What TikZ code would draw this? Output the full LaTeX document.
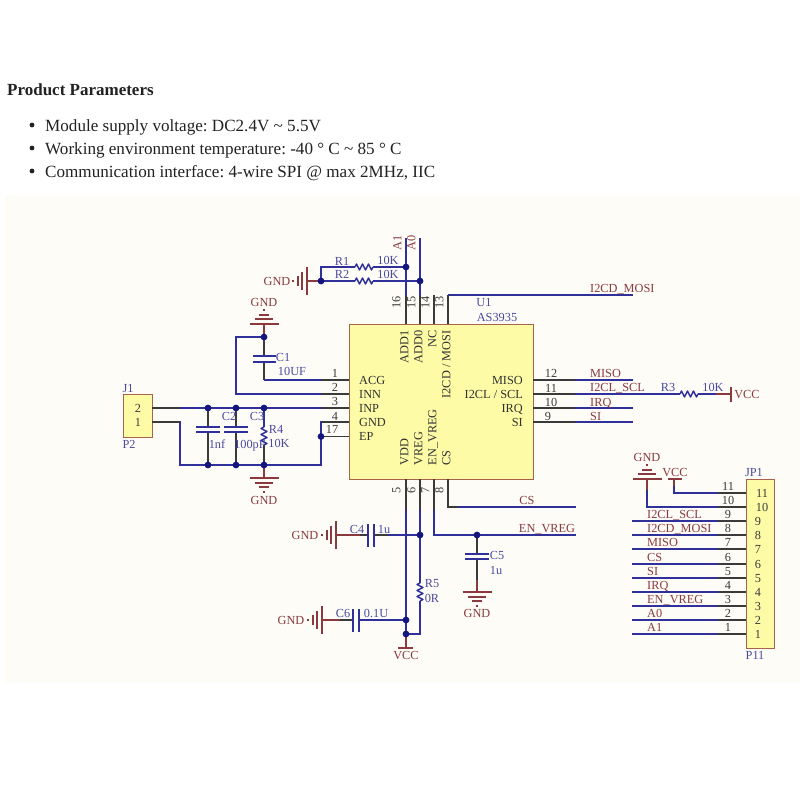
\documentclass[tikz,border=0pt]{standalone}
\usepackage{fontspec}
\setmainfont{Liberation Serif}
\definecolor{wireblue}{HTML}{30309A}
\definecolor{pinblack}{HTML}{3A3A3A}
\definecolor{netred}{HTML}{8A3A3E}
\definecolor{lblblue}{HTML}{4A4A9E}
\definecolor{chipfill}{HTML}{FDFBA6}
\definecolor{chipedge}{HTML}{A8644A}
\definecolor{panelbg}{HTML}{FEFCF7}
\definecolor{bodytext}{HTML}{222222}
\definecolor{dotblue}{HTML}{15157F}
\tikzset{
  wire/.style={draw=wireblue,line width=1.4pt},
  pinline/.style={draw=pinblack,line width=1.4pt},
  redline/.style={draw=netred,line width=1.4pt},
  chip/.style={draw=chipedge,fill=chipfill,line width=0.9pt},
  capplate/.style={draw=wireblue,line width=1.6pt},
  base/.style={inner sep=0pt,font=\fontsize{12.3}{12.3}\selectfont},
  bluetxt/.style={base,text=lblblue,anchor=mid,yshift=-2pt},
  redtxt/.style={base,text=netred,anchor=mid,yshift=-2pt},
  redrot/.style={base,text=netred,rotate=90,anchor=mid,xshift=3.5pt},
  redleft/.style={base,text=netred,anchor=mid west,yshift=-2pt},
  pintxt/.style={base,text=pinblack,anchor=mid,yshift=-2pt},
  chipleft/.style={base,text=pinblack!85!black,anchor=mid west,yshift=-2pt},
  chipright/.style={base,text=pinblack!85!black,anchor=mid east,yshift=-2pt},
  chipup/.style={base,text=pinblack!85!black,rotate=90,anchor=mid east,xshift=3.5pt},
  chipdown/.style={base,text=pinblack!85!black,rotate=90,anchor=mid west,xshift=3.5pt},
  pinrot/.style={base,text=pinblack,rotate=90,anchor=mid,xshift=3.5pt},
  bodyline/.style={inner sep=0pt,text=bodytext,anchor=mid west,yshift=-4pt,font=\fontsize{17.1}{17}\selectfont\frenchspacing},
  gnddown/.pic={
    \draw[redline] (-14.5,0)--(14.5,0) (-9,5)--(9,5) (-5,9)--(5,9) (-1,14)--(1,14);
  },
  gndup/.pic={
    \draw[redline] (-14.5,0)--(14.5,0) (-9,-5)--(9,-5) (-5,-9)--(5,-9) (-1,-14)--(1,-14);
  },
  gndleft/.pic={
    \draw[redline] (0,-14)--(0,14) (-5,-9)--(-5,9) (-9,-5)--(-9,5) (-14,-1)--(-14,1);
  },
  resh/.pic={
    \draw[wire,line join=round] (0,0)--(1.5,-3)--(4.5,3)--(7.5,-3)--(10.5,3)--(13.5,-3)--(16.5,3)--(18,0);
  },
  resv/.pic={
    \draw[wire,line join=round] (0,0)--(-3,1.5)--(3,4.5)--(-3,7.5)--(3,10.5)--(-3,13.5)--(3,16.5)--(0,18);
  },
}
\newcommand{\jdots}[1]{\foreach \p in {#1}{\fill[dotblue] \p circle (3.4);}}
\begin{document}
\begin{tikzpicture}[x=1pt,y=-1pt]
\useasboundingbox (0,0) rectangle (800,800);
\fill[white] (0,0) rectangle (800,800);
\fill[panelbg] (5,195) rectangle (800,682);

% --- heading text
\node[inner sep=0pt,text=bodytext,anchor=mid west,yshift=-4pt,font=\fontsize{17}{17}\selectfont\bfseries\frenchspacing] (head) at (7,89) {Product Parameters};
\node[bodyline] (b1) at (45,125) {Module supply voltage: DC2.4V \textasciitilde{} 5.5V};
\node[bodyline] (b2) at (45,148) {Working environment temperature: -40 ° C \textasciitilde{} 85 ° C};
\node[bodyline] (b3) at (45,171) {Communication interface: 4-wire SPI @ max 2MHz, IIC};
\foreach \yy in {125,148,171}{\fill[bodytext] (32,\yy) circle (2.4);}

% --- chips
\draw[chip] (349,324) rectangle (533,479);
\draw[chip] (123,394) rectangle (152,437);
\draw[chip] (746,479) rectangle (774,648);

% --- left wires
\draw[wire] (152,408)--(349,408);
\draw[wire] (152,422)--(180,422)--(180,465)--(321,465)--(321,422)--(349,422);
\draw[wire] (321,436.5)--(349,436.5);
\draw[wire] (264,337)--(236,337)--(236,394)--(349,394);
\draw[wire] (264,380)--(349,380);
\draw[pinline] (264,362)--(264,380);
\draw[pinline] (264,337)--(264,356);
\draw[pinline] (152,408)--(180,408) (152,422)--(180,422);
\foreach \yy in {380,394,408,422,436.5}{\draw[pinline] (322,\yy)--(349,\yy);}
\draw[pinline] (208,408)--(208,427) (208,432)--(208,465);
\draw[pinline] (236,408)--(236,427) (236,432)--(236,465);
\draw[pinline] (264,445)--(264,465);
\draw[wire] (264,408)--(264,427);
\pic at (264,427) {resv};
\draw[capplate] (196,427)--(220,427) (196,432)--(220,432);
\draw[capplate] (224,427)--(248,427) (224,432)--(248,432);
\draw[capplate] (253,356)--(276,356) (253,362)--(276,362);
\draw[redline] (264,324)--(264,337);
\pic at (264,324) {gndup};
\draw[redline] (264,465)--(264,478);
\pic at (264,478) {gnddown};
\jdots{(264,337),(208,408),(236,408),(264,408),(208,465),(236,465),(264,465),(321,436.5)}

% --- R1, R2
\draw[redline] (307,281)--(321,281);
\pic at (307,281) {gndleft};
\draw[wire] (321,281)--(321,267)--(355,267) (373,267)--(406,267);
\draw[wire] (321,281)--(355,281) (373,281)--(420,281);
\pic at (355,267) {resh};
\pic at (355,281) {resh};
\jdots{(321,281)}

% --- top pins
\draw[wire] (406,238)--(406,324);
\draw[wire] (420,238)--(420,324);
\draw[wire] (448,295)--(633,295);
\draw[pinline] (406,296)--(406,324) (420,296)--(420,324) (434,295)--(434,324) (448,295)--(448,324);
\jdots{(406,267),(420,281)}

% --- right pins
\draw[wire] (533,380)--(633,380);
\draw[wire] (533,394)--(680,394) (698,394)--(716,394);
\draw[redline] (716,394)--(731,394) (731,387)--(731,402);
\pic at (680,394) {resh};
\draw[wire] (533,408)--(633,408);
\draw[wire] (533,422)--(633,422);
\foreach \yy in {380,394,408,422}{\draw[pinline] (533,\yy)--(575,\yy);}

% --- bottom pins
\draw[wire] (406,479)--(406,634);
\draw[wire] (420,479)--(420,583) (420,601)--(420,634)--(406,634);
\pic at (420,583) {resv};
\draw[wire] (448,479)--(448,507)--(576,507);
\draw[wire] (434,479)--(434,535)--(576,535);
\draw[pinline] (406,479)--(406,509) (420,479)--(420,509) (434,479)--(434,509) (448,479)--(448,507)--(458,507);
\draw[redline] (406,634)--(406,648) (398,648)--(413,648);
% C4
\draw[redline] (336,535)--(360,535);
\draw[pinline] (360,535)--(368,535);
\draw[pinline] (374,535)--(388,535);
\draw[wire] (388,535)--(420,535);
\pic at (336,535) {gndleft};
\draw[capplate] (368,524)--(368,547) (374,524)--(374,547);
% C6
\draw[redline] (322,620)--(340,620);
\draw[pinline] (340,620)--(353,620);
\draw[wire] (359,620)--(406,620);
\pic at (322,620) {gndleft};
\draw[capplate] (353,609)--(353,632) (359,609)--(359,632);
% C5
\draw[pinline] (477,535)--(477,554) (477,559)--(477,580);
\draw[redline] (477,580)--(477,592);
\draw[capplate] (465,554)--(489,554) (465,559)--(489,559);
\pic at (477,592) {gnddown};
\jdots{(420,535),(477,535),(406,620),(406,634)}

% --- JP1
\foreach \yy in {521,535,549,564,578,592,606,620,634}{
  \draw[wire] (632,\yy)--(746,\yy);
  \draw[pinline] (718,\yy)--(746,\yy);
}
\draw[wire] (647,490)--(647,507)--(746,507);
\draw[redline] (647,479)--(647,490);
\draw[wire] (674,486)--(674,493)--(746,493);
\draw[redline] (674,479)--(674,486) (668,479)--(682,479);
\draw[pinline] (718,493)--(746,493) (718,507)--(746,507);
\pic at (647,479) {gndup};

% --- labels: left side
\node[bluetxt] (j1) at (128,388) {J1};
\node[bluetxt] (p2) at (129,444) {P2};
\node[pintxt] (j2n) at (138,408) {2};
\node[pintxt] (j1n) at (138,422) {1};
\node[redtxt] (g1) at (264,302) {GND};
\node[redtxt] (g2) at (264,500) {GND};
\node[redtxt] (g3) at (277,281) {GND};
\node[bluetxt] (c1) at (283,357) {C1};
\node[bluetxt] (c1v) at (292,371) {10UF};
\node[bluetxt] (c2) at (229,416) {C2};
\node[bluetxt] (c3) at (257,416) {C3};
\node[bluetxt] (r4) at (276,429) {R4};
\node[bluetxt] (r4v) at (279,443) {10K};
\node[bluetxt] (c2v) at (217,444) {1nf};
\node[bluetxt] (c3v) at (250,444) {100pF};
\node[bluetxt] (r1) at (342,261) {R1};
\node[bluetxt] (r2) at (342,274) {R2};
\node[bluetxt] (r1v) at (388,260) {10K};
\node[bluetxt] (r2v) at (388,274) {10K};
\node[redrot] (a1) at (399,246) {A1};
\node[redrot] (a0) at (413,246) {A0};
\foreach \yy/\tt in {373/1,387/2,401/3,416/4}{\node[pintxt] at (335,\yy) {\tt};}
\node[pintxt] (n17) at (332,429) {17};

% --- chip labels
\node[bluetxt] (u1) at (484,302) {U1};
\node[bluetxt] (as) at (497,317) {AS3935};
\foreach \yy/\tt in {380/ACG,394/INN,408/INP,422.5/GND,436.5/EP}{\node[chipleft] at (359,\yy) {\tt};}
\foreach \yy/\tt in {380/MISO,394/{I2CL / SCL},408/IRQ,422/SI}{\node[chipright] at (523,\yy) {\tt};}
\foreach \xx/\tt in {406/ADD1,420/ADD0,434/NC,448/{I2CD / MOSI}}{\node[chipup] at (\xx,334) {\tt};}
\foreach \xx/\tt in {406/VDD,420/VREG,434/EN\_VREG,448/CS}{\node[chipdown] at (\xx,469) {\tt};}
\foreach \xx/\tt in {398/16,413/15,427/14,441/13}{\node[pinrot] at (\xx,306) {\tt};}
\foreach \xx/\tt in {398/5,413/6,427/7,441/8}{\node[pinrot] at (\xx,494) {\tt};}

% --- right labels
\node[redleft] (mosi) at (590,288) {I2CD\_MOSI};
\node[redleft] (miso) at (590,373) {MISO};
\node[redleft] (scl) at (590,387) {I2CL\_SCL};
\node[redleft] (irq) at (590,402) {IRQ};
\node[redleft] (si) at (590,416) {SI};
\node[pintxt] (n12) at (551,373) {12};
\node[pintxt] (n11) at (551,388) {11};
\node[pintxt] (n10) at (551,402) {10};
\node[pintxt] (n9) at (548,416) {9};
\node[bluetxt] (r3) at (668,387) {R3};
\node[bluetxt] (r3v) at (713,387) {10K};
\node[redtxt] (vcc1) at (747,394) {VCC};

% --- bottom labels
\node[redtxt] (cs) at (527,500) {CS};
\node[redtxt] (en) at (547,528) {EN\_VREG};
\node[redtxt] (g4) at (305,535) {GND};
\node[redtxt] (g5) at (291,620) {GND};
\node[redtxt] (g6) at (477,613) {GND};
\node[redtxt] (vcc2) at (406,655) {VCC};
\node[bluetxt] (c4) at (357,529) {C4};
\node[bluetxt] (c4v) at (384,529) {1u};
\node[bluetxt] (c6) at (343,613) {C6};
\node[bluetxt] (c6v) at (376,613) {0.1U};
\node[bluetxt] (c5) at (497,555) {C5};
\node[bluetxt] (c5v) at (496,570) {1u};
\node[bluetxt] (r5) at (432,583) {R5};
\node[bluetxt] (r5v) at (432,598) {0R};

% --- JP1 labels
\node[redtxt] (g7) at (647,457) {GND};
\node[redtxt] (vcc3) at (675,472) {VCC};
\node[bluetxt] (jp1) at (754,472) {JP1};
\node[bluetxt] (p11) at (755,655) {P11};
\foreach \yy/\tt in {514/I2CL\_SCL,528/I2CD\_MOSI,542/MISO,557/CS,571/SI,585/IRQ,599/EN\_VREG,613/A0,627/A1}{\node[redleft] at (647,\yy) {\tt};}
\foreach \yy/\tt in {486/11,500/10,514/9,528/8,542/7,557/6,571/5,585/4,599/3,613/2,627/1}{\node[pintxt] at (728,\yy) {\tt};}
\foreach \yy/\tt in {493/11,507/10}{\node[pintxt] at (762,\yy) {\tt};}
\foreach \yy/\tt in {521/9,535/8,549/7,564/6,578/5,592/4,606/3,620/2,634/1}{\node[pintxt] at (758,\yy) {\tt};}
\end{tikzpicture}
\end{document}
